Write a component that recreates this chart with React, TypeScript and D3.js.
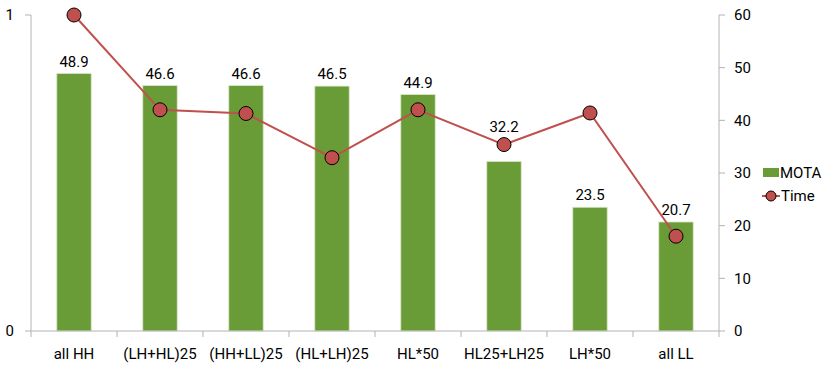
import React from "react";
import * as d3 from "d3";

const categories = ["all HH", "(LH+HL)25", "(HH+LL)25", "(HL+LH)25", "HL*50", "HL25+LH25", "LH*50", "all LL"];
const mota = [48.9, 46.6, 46.6, 46.5, 44.9, 32.2, 23.5, 20.7];
const time = [60, 42, 41.3, 32.9, 42, 35.4, 41.4, 18];
const leftTicks = [0, 1];
const rightTicks = [0, 10, 20, 30, 40, 50, 60];

const W = 830;
const H = 368;
const m = { left: 31, right: 111, top: 15, bottom: 37 };
const FONT = "Roboto, 'DejaVu Sans', sans-serif";
const GREEN = "#699b37";
const RED = "#c0504d";
const AXIS = "#b3b3b3";

const App = () => {
  const x = d3
    .scaleBand()
    .domain(categories)
    .range([m.left, W - m.right])
    .paddingInner(0.6)
    .paddingOuter(0.3);
  const step = x.step();
  const yL = d3.scaleLinear().domain([0, 1]).range([H - m.bottom, m.top]);
  const yR = d3.scaleLinear().domain([0, 60]).range([H - m.bottom, m.top]);
  const x0 = m.left;
  const x1 = W - m.right;
  const base = H - m.bottom;
  const cx = (i: number) => x(categories[i])! + x.bandwidth() / 2;

  const line = d3
    .line<number>()
    .x((d, i) => cx(i))
    .y((d) => yR(d));

  // label sits above the bar, or above the marker when the two would collide
  const labelY = (i: number) => {
    const top = yR(mota[i]) - 12;
    const my = yR(time[i]);
    if (my < top + 12 && my > top - 20) return my - 18;
    return top;
  };

  return (
    <svg
      width={W}
      height={H}
      style={{ position: "absolute", left: 0, top: 0, background: "#fff" }}
      fontFamily={FONT}
    >
      {/* bars */}
      {mota.map((v, i) => (
        <rect
          key={i}
          x={x(categories[i])}
          y={yR(v)}
          width={x.bandwidth()}
          height={base - yR(v)}
          fill={GREEN}
          stroke="#d9e8c8"
          strokeWidth={0.8}
        />
      ))}

      {/* left axis */}
      <line x1={x0} x2={x0} y1={m.top} y2={base} stroke={AXIS} />
      {leftTicks.map((t) => (
        <g key={t}>
          <line x1={x0 - 6} x2={x0} y1={yL(t)} y2={yL(t)} stroke={AXIS} />
          <text x={x0 - 17} y={yL(t)} dy="0.35em" textAnchor="end" fontSize={15} fill="#000">
            {t}
          </text>
        </g>
      ))}

      {/* right axis */}
      <line x1={x1} x2={x1} y1={m.top} y2={base} stroke={AXIS} />
      {rightTicks.map((t) => (
        <g key={t}>
          <line x1={x1} x2={x1 + 6} y1={yR(t)} y2={yR(t)} stroke={AXIS} />
          <text x={x1 + 15} y={yR(t)} dy="0.35em" fontSize={15} fill="#000">
            {t}
          </text>
        </g>
      ))}

      {/* bottom axis */}
      <line x1={x0} x2={x1} y1={base} y2={base} stroke={AXIS} />
      {d3.range(categories.length + 1).map((i) => (
        <line
          key={i}
          x1={x0 + i * step}
          x2={x0 + i * step}
          y1={base}
          y2={base + 6}
          stroke={AXIS}
        />
      ))}
      {categories.map((c, i) => (
        <text
          key={c}
          x={cx(i)}
          y={base + 23}
          dy="0.35em"
          textAnchor="middle"
          fontSize={15}
          fill="#000"
        >
          {c}
        </text>
      ))}

      {/* time line */}
      <path d={line(time) || ""} fill="none" stroke={RED} strokeWidth={2} />
      {time.map((v, i) => (
        <circle key={i} cx={cx(i)} cy={yR(v)} r={7} fill={RED} stroke="#000" strokeWidth={1} />
      ))}

      {/* bar labels */}
      {mota.map((v, i) => (
        <text
          key={i}
          x={cx(i)}
          y={labelY(i)}
          dy="0.35em"
          textAnchor="middle"
          fontSize={15}
          fill="#000"
        >
          {v.toFixed(1)}
        </text>
      ))}

      {/* legend */}
      <g fontSize={15} fill="#000">
        <rect x={763} y={168} width={16} height={9} fill={GREEN} />
        <text x={780} y={172.5} dy="0.35em">MOTA</text>
        <line x1={762} x2={780} y1={196} y2={196} stroke={RED} strokeWidth={2} />
        <circle cx={771} cy={196} r={5} fill={RED} stroke="#000" strokeWidth={1} />
        <text x={781} y={196} dy="0.35em">Time</text>
      </g>
    </svg>
  );
};

export default App;
